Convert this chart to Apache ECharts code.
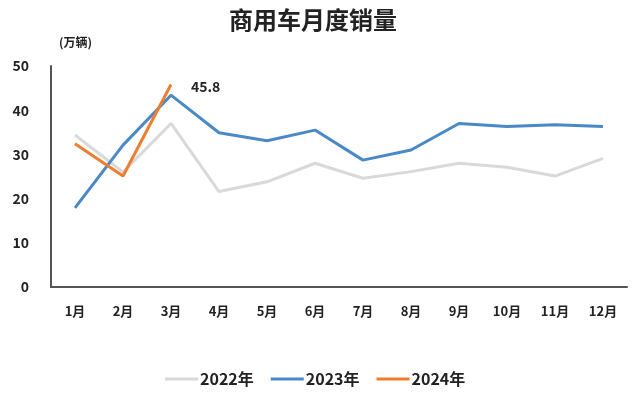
<!DOCTYPE html>
<html><head><meta charset="utf-8">
<script src="https://cdn.jsdelivr.net/npm/echarts@6/dist/echarts.min.js"></script>
<style>html,body{margin:0;padding:0;background:#fff}#c{width:640px;height:396px}</style>
</head><body><div id="c"></div>
<script>
const months = ['1月','2月','3月','4月','5月','6月','7月','8月','9月','10月','11月','12月'];
const s2022 = [34.4, 26.0, 37.0, 21.6, 23.8, 28.0, 24.6, 26.1, 28.0, 27.1, 25.1, 29.1];
const s2023 = [17.9, 32.1, 43.4, 34.9, 33.1, 35.5, 28.7, 31.0, 37.0, 36.3, 36.7, 36.3];
const s2024 = [32.4, 25.1, 45.8];
const yTicks = [0, 10, 20, 30, 40, 50];

const chart = echarts.init(document.getElementById('c'));
const font = '"Noto Sans CJK SC", sans-serif';
chart.setOption({
  animation: false,
  title: {
    text: '商用车月度销量', left: 308, top: 3, textAlign: 'center',
    textStyle: { fontFamily: font, fontSize: 24, fontWeight: 'bold', color: '#222' }
  },
  legend: {
    bottom: 4, left: 160, itemWidth: 33, itemHeight: 3, itemGap: 17,
    icon: 'rect',
    textStyle: { fontFamily: font, fontSize: 16, fontWeight: 'bold', color: '#222', padding: [0, 0, 0, -3] },
    data: ['2022年', '2023年', '2024年']
  },
  grid: { left: 51, right: 13, top: 66, bottom: 109 },
  xAxis: {
    type: 'category', data: months, boundaryGap: true,
    axisLine: { lineStyle: { color: '#555', width: 2 } },
    axisTick: { show: false },
    axisLabel: { fontFamily: font, fontSize: 13, fontWeight: 'bold', color: '#222', margin: 18 }
  },
  yAxis: {
    type: 'value', min: yTicks[0], max: yTicks[yTicks.length - 1], interval: 10,
    name: '(万辆)', nameLocation: 'end', nameGap: 18,
    nameTextStyle: { fontFamily: font, fontSize: 12, fontWeight: 'bold', color: '#222', align: 'left', padding: [0, 0, 0, 8] },
    axisLine: { show: true, lineStyle: { color: '#555', width: 2 } },
    axisTick: { show: false },
    splitLine: { show: false },
    axisLabel: { fontFamily: font, fontSize: 14, fontWeight: 'bold', color: '#222', margin: 22 }
  },
  series: [
    { name: '2022年', type: 'line', data: s2022, symbol: 'none', lineStyle: { color: '#d9d9d9', width: 3 }, itemStyle: { color: '#d9d9d9' } },
    { name: '2023年', type: 'line', data: s2023, symbol: 'none', lineStyle: { color: '#4a89c8', width: 3 }, itemStyle: { color: '#4a89c8' } },
    { name: '2024年', type: 'line', data: s2024, symbol: 'none', lineStyle: { color: '#ed7d31', width: 3 }, itemStyle: { color: '#ed7d31' },
      endLabel: { show: true, formatter: '{c}', fontFamily: font, fontSize: 14, fontWeight: 'bold', color: '#222', offset: [12, 2] } }
  ]
});
</script></body></html>
